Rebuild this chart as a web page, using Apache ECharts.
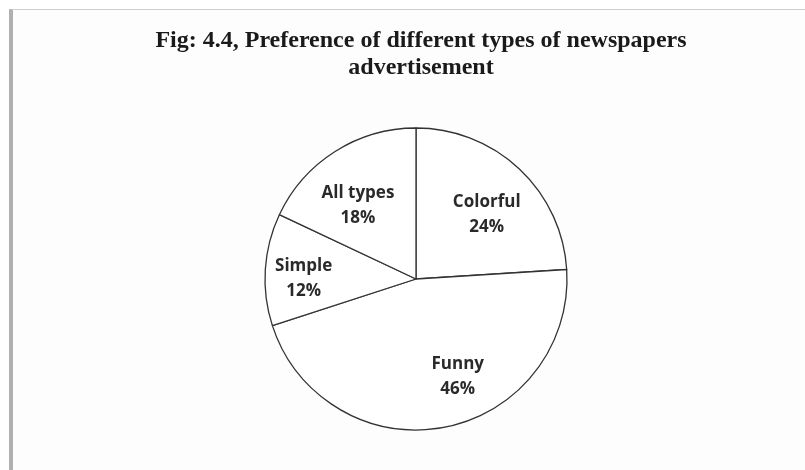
<!DOCTYPE html>
<html>
<head>
<meta charset="utf-8">
<script src="https://cdn.jsdelivr.net/npm/echarts@6/dist/echarts.min.js"></script>
<style>
  html, body { margin: 0; padding: 0; background: #fff; }
  #frame {
    position: absolute; left: 9px; top: 9px; right: 0; bottom: 0;
    border-left: 4px solid #b0b0b0; border-top: 1px solid #cfcfcf;
    background: #fdfdfd;
  }
  #mychart { position: absolute; left: 0; top: 0; width: 805px; height: 470px; }
</style>
</head>
<body>
<div id="frame"></div>
<div id="mychart"></div>
<script>
  // data
  var categories = ['Colorful', 'Funny', 'Simple', 'All types']
  var shares = [24, 46, 12, 18]

  // label nudges from the default "inside" spot
  var labelNudge = [[17, -7], [27, 21], [-34, 5], [-16, -7]]

  var chart = echarts.init(document.getElementById('mychart'))

  var pieData = categories.map(function (name, i) {
    return {
      name: name,
      value: shares[i],
      label: { offset: labelNudge[i] }
    }
  })

  chart.setOption({
    animation: false,
    backgroundColor: 'transparent',
    title: {
      text: 'Fig: 4.4, Preference of different types of newspapers\nadvertisement',
      left: 416,
      top: 22,
      textAlign: 'center',
      textStyle: {
        fontFamily: 'Liberation Serif',
        fontWeight: 'bold',
        fontSize: 24,
        lineHeight: 27,
        color: '#1a1a1a'
      }
    },
    series: [
      {
        type: 'pie',
        center: [416, 279],
        radius: 151,
        startAngle: 90,
        clockwise: true,
        silent: true,
        itemStyle: {
          color: '#ffffff',
          borderColor: '#333333',
          borderWidth: 1.3
        },
        label: {
          position: 'inside',
          formatter: '{b}\n{c}%',
          fontFamily: 'Open Sans',
          fontWeight: 'bold',
          fontSize: 17,
          lineHeight: 25,
          color: '#2a2a2a'
        },
        labelLine: { show: false },
        data: pieData
      }
    ]
  })
</script>
</body>
</html>
